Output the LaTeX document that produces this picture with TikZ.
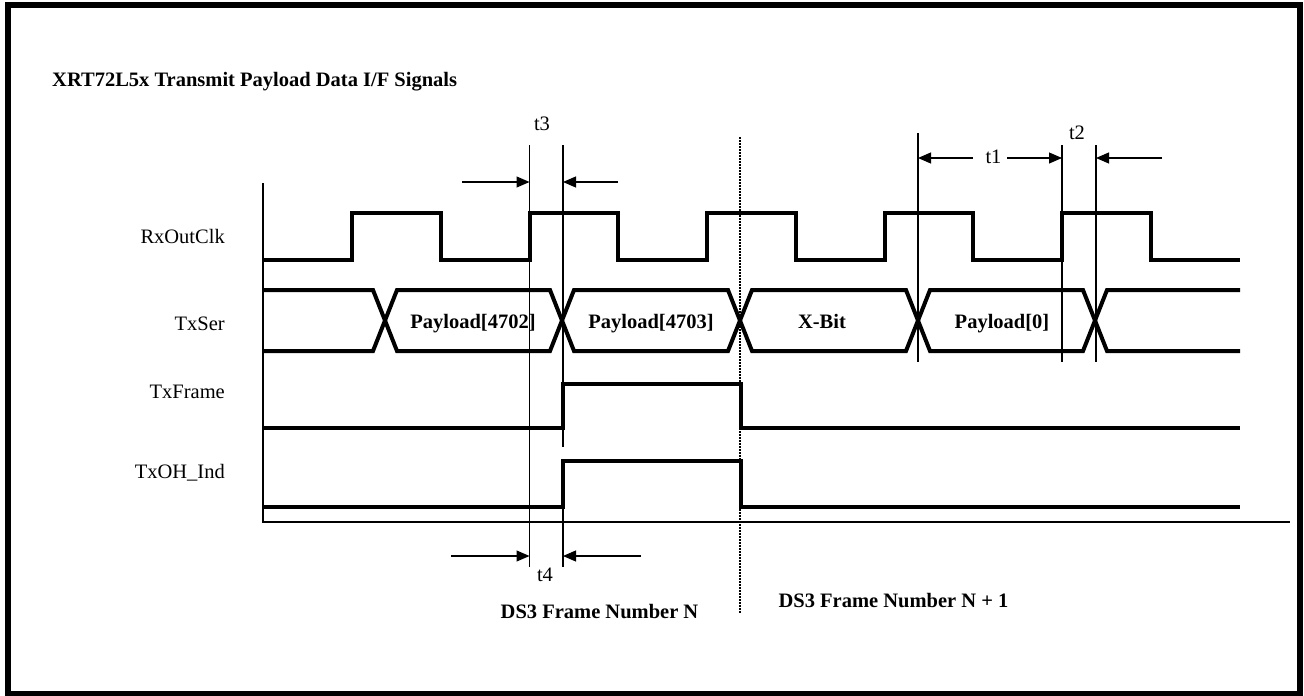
\documentclass[tikz,border=0pt]{standalone}
\usepackage{fontspec}
\setmainfont{Liberation Serif}
\usetikzlibrary{arrows.meta, positioning, calc}

\begin{document}
\begin{tikzpicture}[
    x=1pt, y=-1pt,
    sig/.style={line width=4pt, line join=miter},
    axisline/.style={line width=1.8pt},
    guide/.style={line width=1.1pt},
    frameline/.style={line width=1.6pt, dash pattern=on 1.6pt off 1.4pt},
    dimarrow/.style={-{Triangle[length=13pt, width=11pt]}, line width=1.1pt},
    signame/.style={anchor=base east, inner sep=0pt, font=\fontsize{20.5}{24}\selectfont},
    tlabel/.style={inner sep=0pt, font=\fontsize{20.5}{24}\selectfont},
    boldlabel/.style={anchor=base, inner sep=0pt, font=\fontsize{20.5}{24}\selectfont\bfseries},
    >=Stealth
]

\useasboundingbox (0,0) rectangle (1304,696);

% --- Outer frame and title ---
\draw[line width=6pt] (8,5) rectangle (1300,694);
\node[boldlabel, anchor=base west] (title) at (52,86) {XRT72L5x Transmit Payload Data I/F Signals};

% --- Axes ---
\coordinate (origin) at (263,522);
\draw[axisline] (263,183) -- (origin) -- (1290,522);

% --- Signal names ---
\node[signame] (nclk)   at (225,243) {RxOutClk};
\node[signame] (nser)   at (225,330) {TxSer};
\node[signame] (nframe) at (225,398) {TxFrame};
\node[signame] (noh)    at (225,478) {TxOH\_Ind};

% --- RxOutClk ---
\draw[sig] (263,260) -| (352,213) -| (440.75,260) -| (529.5,213) -| (618.25,260)
    -| (707,213) -| (795.75,260) -| (884.5,213) -| (973.25,260) -| (1062,213)
    -| (1150.75,260) -- (1240,260);

% --- TxSer bus ---
\draw[sig] (263,290) -- (373,290) -- (397,351) -- (550,351) -- (574,290) -- (728,290)
    -- (752,351) -- (906,351) -- (930,290) -- (1083,290) -- (1107,351) -- (1240,351);
\draw[sig] (263,351) -- (373,351) -- (397,290) -- (550,290) -- (574,351) -- (728,351)
    -- (752,290) -- (906,290) -- (930,351) -- (1083,351) -- (1107,290) -- (1240,290);

\foreach \x/\txt/\nm in {473/{Payload[4702]}/p4702, 651/{Payload[4703]}/p4703,
                         822/{X-Bit}/xbit, 1002/{Payload[0]}/p0} {
    \node[boldlabel] (\nm) at (\x,328.5) {\txt};
}

% --- TxFrame and TxOH_Ind ---
\draw[sig] (263,428) -- (563,428) -- (563,384) -- (741,384) -- (741,428) -- (1240,428);
\draw[sig] (263,507) -- (563,507) -- (563,461) -- (741,461) -- (741,507) -- (1240,507);

% --- Timing guides ---
\draw[guide] (529.5,145) -- (529.5,567);
\draw[guide] (563,145) -- (563,447);
\draw[guide] (563,461) -- (563,567);
\foreach \x/\top in {918/133, 1062/145, 1096/145} {
    \draw[guide] (\x,\top) -- (\x,362);
}
\draw[frameline] (740,137) -- (740,613);

% --- t3 / t4 ---
\coordinate (t3a) at (529.5,182);
\coordinate (t3b) at (563,182);
\coordinate (t4a) at (529.5,556);
\coordinate (t4b) at (563,556);
\coordinate (t3s) at (462,182);
\coordinate (t3e) at (618,182);
\coordinate (t4s) at (451,556);
\coordinate (t4e) at (641,556);
\foreach \s/\w in {t3s/t3a, t3e/t3b, t4s/t4a, t4e/t4b} {
    \draw[dimarrow] (\s) -- (\w);
}
\node[tlabel] (lt3) at (542,124) {t3};
\node[tlabel] (lt4) at (545,575) {t4};

% --- t1 / t2 ---
\coordinate (t1a) at (918,158);
\coordinate (t1b) at (1062,158);
\coordinate (t2b) at (1096,158);
\node[tlabel] (lt1) at (993.5,157) {t1};
\node[tlabel] (lt2) at (1077,133) {t2};
\coordinate (t1s) at (973,158);
\coordinate (t1e) at (1007,158);
\coordinate (t2s) at (1162,158);
\foreach \s/\w in {t1s/t1a, t1e/t1b, t2s/t2b} {
    \draw[dimarrow] (\s) -- (\w);
}

% --- Frame labels ---
\node[boldlabel] (frameN)  at (599.5,618) {DS3 Frame Number N};
\node[boldlabel] (frameN1) at (893.5,607) {DS3 Frame Number N + 1};

\end{tikzpicture}
\end{document}
